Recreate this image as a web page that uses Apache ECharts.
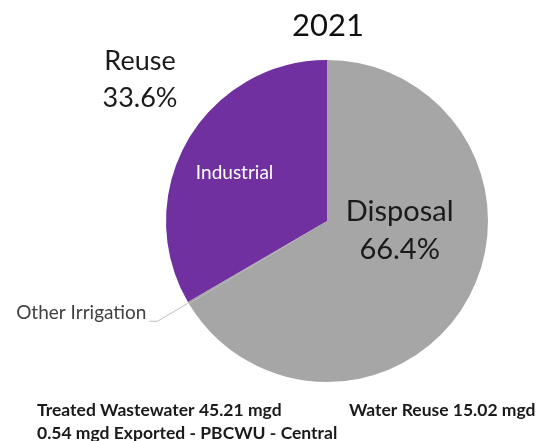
<!DOCTYPE html>
<html><head><meta charset="utf-8">
<script src="https://cdn.jsdelivr.net/npm/echarts@6/dist/echarts.min.js"></script>
<style>html,body{margin:0;padding:0;background:#fff}#c{width:544px;height:441px}</style>
</head><body><div id="c"></div>
<script>
const titleText = "2021";
const categories = ["Disposal", "Other Irrigation", "Industrial"];
const values = [66.4, 0.2, 33.4];
const colors = ["#A6A6A6", "#A6A6A6", "#7030A0"];
const reuseLabel = ["Reuse", "33.6%"];
const disposalPct = "66.4%";
const footLines = ["Treated Wastewater 45.21 mgd", "Water Reuse 15.02 mgd", "0.54 mgd Exported - PBCWU - Central"];

const F = "Lato, 'Open Sans', sans-serif";
const chart = echarts.init(document.getElementById('c'), null, {renderer: 'canvas'});
const data = categories.map((c, i) => {
  const d = {name: c, value: values[i], itemStyle: {color: colors[i]}};
  if (c === "Disposal") {
    d.label = {position: 'inside', offset: [0, -32], formatter: '{a|Disposal}\n{a|' + disposalPct + '}',
      rich: {a: {fontFamily: F, fontSize: 29, color: '#1a1a1a', lineHeight: 38, align: 'center'}}};
  } else if (c === "Industrial") {
    d.label = {position: 'inside', offset: [-20, -7], formatter: '{b}', color: '#fff', fontFamily: F, fontSize: 19};
  } else {
    d.label = {position: 'outside', formatter: '{b}', color: '#404040', fontFamily: F, fontSize: 19,
      distanceToLabelLine: 3, offset: [0, -8]};
    d.labelLine = {show: true, length: 36, length2: 8, smooth: false, lineStyle: {color: '#bfbfbf', width: 1}};
  }
  return d;
});
chart.setOption({
  animation: false,
  graphic: [
    {type: 'text', x: 328, y: 26, style: {text: titleText, fontFamily: F, fontSize: 31, fill: '#111', align: 'center', verticalAlign: 'middle'}},
    {type: 'text', x: 140, y: 61, style: {text: reuseLabel[0], fontFamily: F, fontSize: 27, fill: '#1a1a1a', align: 'center', verticalAlign: 'middle'}},
    {type: 'text', x: 140, y: 98, style: {text: reuseLabel[1], fontFamily: F, fontSize: 27, fill: '#1a1a1a', align: 'center', verticalAlign: 'middle'}},
    {type: 'text', x: 37, y: 410, style: {text: footLines[0], fontFamily: F, fontSize: 17.5, fontWeight: 'bold', fill: '#1a1a1a', verticalAlign: 'middle'}},
    {type: 'text', x: 349, y: 410, style: {text: footLines[1], fontFamily: F, fontSize: 17.5, fontWeight: 'bold', fill: '#1a1a1a', verticalAlign: 'middle'}},
    {type: 'text', x: 37, y: 433, style: {text: footLines[2], fontFamily: F, fontSize: 17.5, fontWeight: 'bold', fill: '#1a1a1a', verticalAlign: 'middle'}}
  ],
  series: [{
    type: 'pie', center: [327, 221], radius: 161, startAngle: 90, clockwise: true,
    avoidLabelOverlap: false, minAngle: 0,
    itemStyle: {borderWidth: 0},
    emphasis: {disabled: true},
    data: data
  }]
});
</script></body></html>
